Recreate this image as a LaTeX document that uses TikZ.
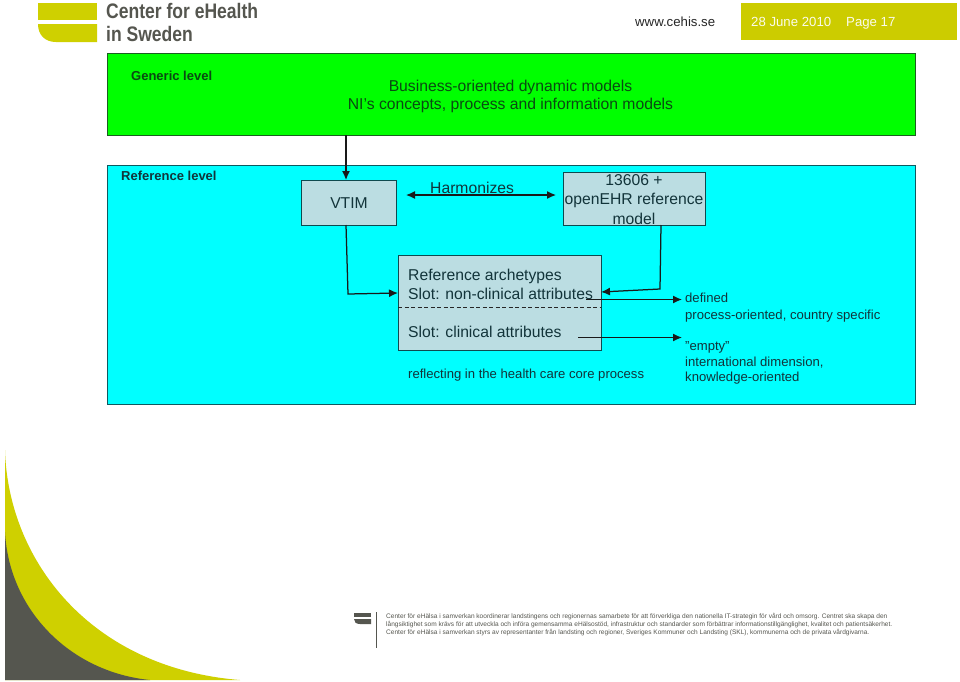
\documentclass[tikz,border=0pt]{standalone}
\usepackage{fontspec}
\setmainfont{Liberation Sans}
\usetikzlibrary{arrows.meta}
\definecolor{olive}{HTML}{CFD000}
\definecolor{datebox}{HTML}{CCCC00}
\definecolor{darkgrey}{HTML}{55564F}
\definecolor{boxfill}{HTML}{BBDDE2}
\definecolor{boxedge}{HTML}{0E4A4F}
\definecolor{inktext}{HTML}{12343A}
\definecolor{greentext}{HTML}{0A4A12}
\definecolor{brightgreen}{HTML}{00FF00}
\definecolor{brightcyan}{HTML}{00FFFF}
\definecolor{greenedge}{HTML}{1B5E20}
\definecolor{cyanedge}{HTML}{0F5A60}
\tikzset{
 x=1pt,y=-1pt,
 band/.style={draw=#1,line width=1.2pt,inner sep=0pt,anchor=north west},
 modelbox/.style={draw=boxedge,line width=1.1pt,fill=boxfill,inner sep=0pt,anchor=north west},
 label14/.style={inner sep=0pt,anchor=base west,text=inktext,font=\fontsize{15.7}{18}\selectfont},
 label12/.style={inner sep=0pt,anchor=base west,text=inktext,font=\fontsize{13.1}{16}\selectfont},
 levelname/.style={inner sep=0pt,anchor=base west,font=\fontsize{13}{15}\selectfont\bfseries},
 foot/.style={inner sep=0pt,anchor=base west,text=darkgrey,font=\fontsize{6.55}{8}\selectfont},
 conn/.style={draw=black!90,line width=1.25pt,-{Latex[length=9pt,width=8pt]}},
 logotext/.style={inner sep=0pt,anchor=base west,text=darkgrey,font=\fontsize{21}{24}\selectfont\bfseries,xscale=.835},
 headtext/.style={inner sep=0pt,anchor=base west,font=\fontsize{13.2}{15}\selectfont},
}
\begin{document}
\begin{tikzpicture}
\useasboundingbox (0,0) rectangle (960,681);
\fill[white] (0,0) rectangle (960,681);
% logo
\fill[olive] (38,3) rectangle (97,20);
\fill[olive] (38,24) -- (97,24) -- (97,42) -- (56,42) .. controls (45,42) and (38,35) .. (38,24) -- cycle;
\node[logotext] (logoa) at (106,18.5) {Center for eHealth};
\node[logotext] (logob) at (106,41.5) {in Sweden};
% header
\node[headtext,text=black!85] (web) at (635,26) {www.cehis.se};
\node[fill=datebox,minimum width=216pt,minimum height=37pt,inner sep=0pt,anchor=north west] (datebg) at (741,3) {};
\node[headtext,text=white!92!datebox] (date) at (751,26) {28 June 2010};
\node[headtext,text=white!92!datebox] (page) at (846,26) {Page 17};
% bands
\node[band=greenedge,fill=brightgreen,minimum width=808pt,minimum height=82pt] (generic) at (107,53) {};
\node[band=cyanedge,fill=brightcyan,minimum width=808pt,minimum height=239pt] (reference) at (107,165) {};
\node[levelname,text=greentext] (gl) at (131,80) {Generic level};
\node[levelname,text=inktext] (rl) at (121,180) {Reference level};
\node[label14,anchor=base,text=greentext] (bo1) at (510.5,91) {Business-oriented dynamic models};
\node[label14,anchor=base,text=greentext] (bo2) at (510.5,109.5) {NI’s concepts, process and information models};
% boxes
\node[modelbox,minimum width=95pt,minimum height=45pt] (vtim) at (301,180) {};
\node[label14,anchor=base] (vt) at (349,208) {VTIM};
\node[modelbox,minimum width=142pt,minimum height=53pt] (rm) at (563,172) {};
\node[label14,anchor=base] (rm1) at (634,185.7) {13606 +};
\node[label14,anchor=base] (rm2) at (634,204.7) {openEHR reference};
\node[label14,anchor=base] (rm3) at (634,224) {model};
\node[modelbox,minimum width=203pt,minimum height=95pt] (arch) at (398,255) {};
\coordinate (dl) at (398,307); \coordinate (dr) at (601,307);
\draw[dash pattern=on 4pt off 2.5pt,line width=.8pt,draw=black!85] (dl) -- (dr);
\node[label14] (a1) at (408,280) {Reference archetypes};
\node[label14] (a2) at (408,299.3) {Slot: non-clinical attributes};
\node[label14] (a3) at (408,337) {Slot: clinical attributes};
\node[label12] (a4) at (408,378) {reflecting in the health care core process};
\node[label14] (harm) at (430,193) {Harmonizes};
% right labels
\node[label12] (d1) at (685,302.7) {defined};
\node[label12] (d2) at (685,319) {process-oriented, country specific};
\node[label12] (e1) at (685,350.7) {"empty"};
\node[label12] (e2) at (685,366) {international dimension,};
\node[label12] (e3) at (685,381.7) {knowledge-oriented};
% connectors
\coordinate (h1) at (406,195); \coordinate (h2) at (556,195);
\coordinate (g0) at (346,135); \coordinate (v0) at (346,180);
\coordinate (v1) at (346,225); \coordinate (v2) at (348,294); \coordinate (a0) at (398,293);
\coordinate (r1) at (661,225); \coordinate (r2) at (660,289); \coordinate (a5) at (601,292);
\coordinate (s1) at (586,299.5); \coordinate (s2) at (682,299.5);
\coordinate (c1) at (578,337.5); \coordinate (c2) at (682,337.5);
\draw[conn] (g0) -- (v0);
\draw[conn,{Latex[length=9pt,width=8pt]}-{Latex[length=9pt,width=8pt]}] (h1) -- (h2);
\draw[conn] (v1) -- (v2) -- (a0);
\draw[conn] (r1) -- (r2) -- (a5);
\draw[conn] (s1) -- (s2);
\draw[conn] (c1) -- (c2);
% swoosh
\fill[olive] (5,450) .. controls (8,560) and (90,668) .. (240,680) -- (5,680) -- cycle;
\fill[darkgrey] (5,532) .. controls (9,610) and (70,672) .. (150,680) -- (5,680) -- cycle;
% footer
\fill[darkgrey] (354,612.5) rectangle (371,617);
\fill[darkgrey] (354,619) -- (371,619) -- (371,624) -- (360,624) .. controls (356,624) and (354,622) .. (354,619) -- cycle;
\draw[darkgrey,line width=.8pt] (376,612) -- (376,648);
\node[foot] (f1) at (386,618.7) {Center för eHälsa i samverkan koordinerar landstingens och regionernas samarbete för att förverkliga den nationella IT-strategin för vård och omsorg. Centret ska skapa den};
\node[foot] (f2) at (386,626.7) {långsiktighet som krävs för att utveckla och införa gemensamma eHälsostöd, infrastruktur och standarder som förbättrar informationstillgänglighet, kvalitet och patientsäkerhet.};
\node[foot] (f3) at (386,634.7) {Center för eHälsa i samverkan styrs av representanter från landsting och regioner, Sveriges Kommuner och Landsting (SKL), kommunerna och de privata vårdgivarna.};
\end{tikzpicture}
\end{document}
